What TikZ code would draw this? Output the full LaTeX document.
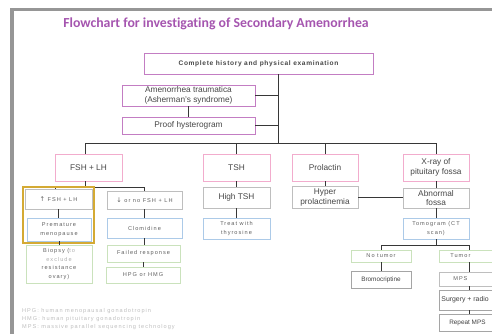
\documentclass[tikz,border=0pt]{standalone}
\usepackage{fontspec}
\setmainfont{Liberation Sans}
\newfontfamily\lsp[LetterSpace=18]{Liberation Sans}
\newfontfamily\hsp[LetterSpace=10]{Liberation Sans}
\newfontfamily\titlefont[Ligatures=NoCommon]{Carlito}
\newfontfamily\symfont{DejaVu Sans}
\usetikzlibrary{fit}
\definecolor{cframe}{RGB}{150,150,150}
\definecolor{ctitle}{RGB}{165,85,175}
\definecolor{cpur}{RGB}{195,125,195}
\definecolor{cpink}{RGB}{242,172,205}
\definecolor{cgray}{RGB}{190,190,190}
\definecolor{cdgray}{RGB}{165,165,165}
\definecolor{cblue}{RGB}{172,202,232}
\definecolor{cgreen}{RGB}{202,226,188}
\definecolor{cgold}{RGB}{212,170,52}
\definecolor{cline}{RGB}{55,55,55}
\definecolor{ctxt}{RGB}{70,70,70}
\definecolor{cstxt}{RGB}{95,95,95}
\definecolor{cnote}{RGB}{190,190,190}
\definecolor{cbio}{RGB}{175,175,175}
\tikzset{
  bx/.style={draw, line width=0.8pt, inner sep=0pt, align=center, text=ctxt},
  nfont/.style={font=\fontsize{8.3}{9.3}\selectfont},
  sfont/.style={font=\lsp\fontsize{5.6}{8.5}\selectfont, text=cstxt},
  purbox/.style={bx, draw=cpur, nfont},
  pinkbox/.style={bx, draw=cpink, nfont},
  graybox/.style={bx, draw=cgray, nfont},
  sgraybox/.style={bx, draw=cgray, sfont},
  bluebox/.style={bx, draw=cblue, sfont},
  greenbox/.style={bx, draw=cgreen, sfont},
  dgraybox/.style={bx, draw=cdgray, font=\fontsize{6.4}{8}\selectfont, text=black!75},
  conn/.style={draw=cline, line width=0.9pt},
  note/.style={anchor=west, inner sep=0pt, font=\lsp\fontsize{5.6}{7}\selectfont, text=cnote}
}
\begin{document}
\begin{tikzpicture}[x=1pt,y=-1pt]
\useasboundingbox (0,0) rectangle (492,334);
\draw[cframe, line width=3.5pt] (12,334) -- (12,9.5) -- (492,9.5);
\node[font=\titlefont\bfseries\fontsize{13.8}{15}\selectfont, text=ctitle, inner sep=0pt] (title) at (216,24) {Flowchart for investigating of Secondary Amenorrhea};

% top part
\node[purbox, font=\hsp\bfseries\fontsize{6.6}{8}\selectfont, minimum width=229pt, minimum height=21pt] (hist) at (258.5,63.5) {Complete history and physical examination};
\node[purbox, minimum width=133pt, minimum height=21pt] (amen) at (188.5,95.5) {Amenorrhea traumatica\\(Asherman's syndrome)};
\node[purbox, minimum width=133pt, minimum height=17pt] (proof) at (188.5,125.5) {Proof hysterogram};
\coordinate (trunk) at (278,143);
\draw[conn] (hist.south -| trunk) -- (trunk);
\draw[conn] (amen.east) -- (amen.east -| trunk);
\draw[conn] (proof.east) -- (proof.east -| trunk);
\draw[conn] (amen.south) -- (proof.north);

% row 1
\node[pinkbox, minimum width=67pt, minimum height=27pt] (fsh) at (88.5,167.5) {FSH + LH};
\node[pinkbox, minimum width=67pt, minimum height=27pt] (tsh) at (236.5,167.5) {TSH};
\node[pinkbox, minimum width=66pt, minimum height=27pt] (prl) at (325,167.5) {Prolactin};
\node[pinkbox, minimum width=66pt, minimum height=27pt] (xray) at (436,167.5) {X-ray of\\pituitary fossa};
\coordinate (fshdrop) at (85,143);
\draw[conn] (fshdrop |- fsh.north) -- (fshdrop) -- (xray.north |- trunk) -- (xray.north);
\draw[conn] (tsh.north |- trunk) -- (tsh.north);
\draw[conn] (prl.north |- trunk) -- (prl.north);

% row 2
\node[sgraybox, minimum width=67pt, minimum height=20pt] (up) at (58.5,199) {{\symfont\fontsize{6.5}{8}\selectfont ↑} FSH + LH};
\node[sgraybox, minimum width=75pt, minimum height=18pt] (down) at (144.5,200) {{\symfont\fontsize{6.5}{8}\selectfont ↓} or no FSH + LH};
\node[graybox, minimum width=67pt, minimum height=21pt] (hightsh) at (236.5,197.5) {High TSH};
\node[graybox, minimum width=66pt, minimum height=22pt] (hyper) at (325,197.5) {Hyper\\prolactinemia};
\node[graybox, minimum width=66pt, minimum height=20pt] (abn) at (436,198) {Abnormal\\fossa};
\coordinate (fsplit) at (85,187);
\coordinate (upx) at (55,187);
\draw[conn] (fsh.south -| fsplit) -- (fsplit);
\draw[conn] (upx |- up.north) -- (upx) -- (down.north |- fsplit) -- (down.north);
\draw[conn] (tsh.south) -- (hightsh.north);
\draw[conn] (prl.south) -- (hyper.north);
\draw[conn] (xray.south) -- (abn.north);
\draw[conn] (hyper.east) -- (hyper.east -| abn.west);

% row 3
\node[bluebox, minimum width=64pt, minimum height=23pt] (prem) at (59,229.5) {Premature\\menopause};
\node[bluebox, minimum width=75pt, minimum height=20pt] (clom) at (144.5,228) {Clomidine};
\node[bluebox, minimum width=67pt, minimum height=21pt] (treat) at (236.5,228.5) {Treat with\\thyrosine};
\node[bluebox, minimum width=66pt, minimum height=21pt] (tomo) at (436,228.5) {Tomogram (CT\\scan)};
\draw[conn] (up.south) -- (up.south |- prem.north);
\draw[conn] (down.south) -- (clom.north);
\draw[conn] (hightsh.south) -- (treat.north);
\draw[conn] (abn.south) -- (tomo.north);
\node[draw=cgold, line width=2pt, inner sep=1.2pt, fit=(up)(prem)] (hl) {};

% row 4
\node[greenbox, minimum width=66pt, minimum height=38pt] (biopsy) at (59,264) {Biopsy (\textcolor{cbio}{to}\\\textcolor{cbio}{exclude}\\resistance\\ovary)};
\node[greenbox, minimum width=73pt, minimum height=17pt] (failed) at (143.5,253.5) {Failed response};
\node[greenbox, minimum width=74pt, minimum height=16pt] (hpg) at (143,275) {HPG or HMG};
\draw[conn] (prem.south) -- (prem.south |- biopsy.north);
\draw[conn] (clom.south) -- (clom.south |- failed.north);
\draw[conn] (failed.south) -- (failed.south |- hpg.north);

% tomogram subtree
\coordinate (tsplit) at (436,245);
\coordinate (tumx) at (469,245);
\node[greenbox, minimum width=60pt, minimum height=12pt] (notumor) at (381,256) {No tumor};
\node[greenbox, anchor=west, minimum width=71pt, minimum height=12pt] (tumor) at (439,256) {\makebox[42pt]{Tumor}\hspace{29pt}};
\node[dgraybox, minimum width=60pt, minimum height=17pt] (bromo) at (381,279.5) {Bromocriptine};
\node[sgraybox, anchor=west, minimum width=71pt, minimum height=14pt] (mps) at (439,279) {\makebox[42pt]{MPS}\hspace{29pt}};
\node[dgraybox, anchor=west, minimum width=71pt, minimum height=20pt, font=\fontsize{6.9}{8}\selectfont] (surg) at (439,300) {\makebox[71pt][l]{\hspace{2pt}Surgery + radio}};
\node[dgraybox, anchor=west, minimum width=71pt, minimum height=17pt] (repeat) at (439,322.5) {\makebox[56pt]{Repeat MPS}\hspace{15pt}};
\draw[conn] (tomo.south) -- (tsplit);
\draw[conn] (notumor.north) -- (notumor.north |- tsplit) -- (tumx) -- (tumx |- tumor.north);
\draw[conn] (notumor.south) -- (bromo.north);
\draw[conn] (tumx |- tumor.south) -- (tumx |- mps.north);
\draw[conn] (tumx |- mps.south) -- (tumx |- surg.north);
\draw[conn] (tumx |- surg.south) -- (tumx |- repeat.north);

% notes
\node[note] (n1) at (22,311) {HPG: human menopausal gonadotropin};
\node[note] (n2) at (22,319) {HMG: human pituitary gonadotropin};
\node[note] (n3) at (22,327) {MPS: massive parallel sequencing technology};
\end{tikzpicture}
\end{document}
